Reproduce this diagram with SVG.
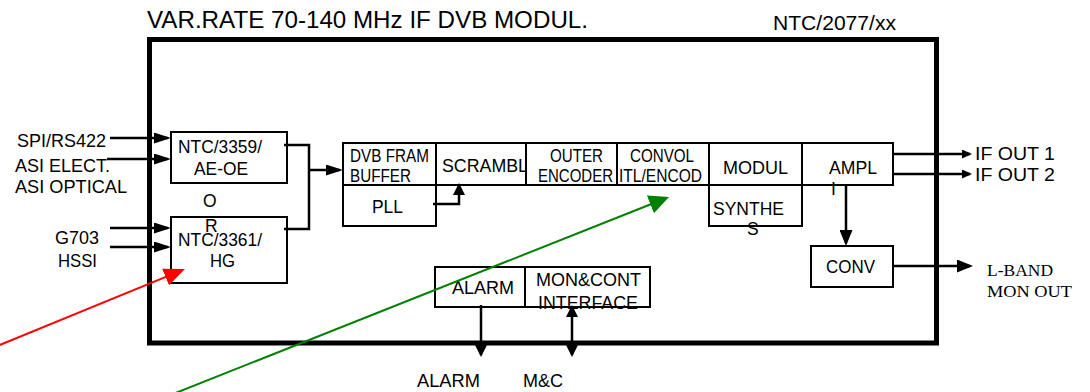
<svg xmlns="http://www.w3.org/2000/svg" width="1090" height="392" viewBox="0 0 1090 392">
<style>
text{font-family:"Liberation Sans",Arial,sans-serif;font-size:17.5px;fill:#000}
.t{font-size:24px}.r{font-size:21px}.s{font-family:"Liberation Serif","Times New Roman",serif;font-size:16.5px}
.b{fill:#fff;stroke:#000;stroke-width:2}
.c{fill:none;stroke:#000;stroke-width:2.5}
</style>
<defs>
<marker id="aIn" viewBox="0 0 10 10" refX="8" refY="5" markerUnits="userSpaceOnUse" markerWidth="17" markerHeight="11" preserveAspectRatio="none" orient="auto"><path d="M0,0L10,5L0,10z"/></marker>
<marker id="aSm" viewBox="0 0 10 10" refX="8" refY="5" markerUnits="userSpaceOnUse" markerWidth="12" markerHeight="12" preserveAspectRatio="none" orient="auto-start-reverse"><path d="M0,0L10,5L0,10z"/></marker>
<marker id="aOut" viewBox="0 0 10 10" refX="8" refY="5" markerUnits="userSpaceOnUse" markerWidth="10" markerHeight="9" preserveAspectRatio="none" orient="auto"><path d="M0,0L10,5L0,10z"/></marker>
<marker id="aMed" viewBox="0 0 10 10" refX="8" refY="5" markerUnits="userSpaceOnUse" markerWidth="16" markerHeight="13" preserveAspectRatio="none" orient="auto"><path d="M0,0L10,5L0,10z"/></marker>
<marker id="aRed" viewBox="0 0 10 10" refX="8" refY="5" markerUnits="userSpaceOnUse" markerWidth="21" markerHeight="18" preserveAspectRatio="none" orient="auto"><path d="M0,0L10,5L0,10z" fill="#ff0000"/></marker>
<marker id="aGrn" viewBox="0 0 10 10" refX="8" refY="5" markerUnits="userSpaceOnUse" markerWidth="20" markerHeight="19" preserveAspectRatio="none" orient="auto"><path d="M0,0L10,5L0,10z" fill="#008000"/></marker>
</defs>
<rect width="1090" height="392" fill="#fff"/>
<text class="t" x="147" y="28" textLength="441" lengthAdjust="spacingAndGlyphs">VAR.RATE 70-140 MHz IF DVB MODUL.</text>
<text class="r" x="773" y="30" textLength="123" lengthAdjust="spacingAndGlyphs">NTC/2077/xx</text>
<rect id="frame" x="149.5" y="39.5" width="787" height="303.5" fill="none" stroke="#000" stroke-width="5"/>

<g id="labels-in">
<text x="17" y="146.5" textLength="89" lengthAdjust="spacingAndGlyphs">SPI/RS422</text>
<text x="15" y="172" textLength="95" lengthAdjust="spacingAndGlyphs">ASI ELECT.</text>
<text x="15" y="193" textLength="112" lengthAdjust="spacingAndGlyphs">ASI OPTICAL</text>
<text x="55" y="244" textLength="44" lengthAdjust="spacingAndGlyphs">G703</text>
<text x="58" y="267" textLength="39" lengthAdjust="spacingAndGlyphs">HSSI</text>
</g>

<g id="n3359"><rect class="b" x="171" y="132" width="116" height="51"/>
<text x="178" y="153" textLength="84" lengthAdjust="spacingAndGlyphs">NTC/3359/</text>
<text x="194" y="175" textLength="54" lengthAdjust="spacingAndGlyphs">AE-OE</text></g>
<g id="n3361"><rect class="b" x="171" y="217" width="116" height="66"/>
<text x="178" y="246" textLength="84" lengthAdjust="spacingAndGlyphs">NTC/3361/</text>
<text x="210" y="267" textLength="25" lengthAdjust="spacingAndGlyphs">HG</text></g>
<g id="or"><text x="203" y="207">O</text><text x="205" y="232">R</text></g>

<g id="dvb"><rect class="b" x="343" y="143" width="93" height="42"/>
<text x="350" y="162" textLength="79" lengthAdjust="spacingAndGlyphs">DVB FRAM</text>
<text x="350" y="182" textLength="61" lengthAdjust="spacingAndGlyphs">BUFFER</text></g>
<g id="pll"><rect class="b" x="343" y="185" width="93" height="41"/>
<text x="372" y="213" textLength="31" lengthAdjust="spacingAndGlyphs">PLL</text></g>
<g id="scrambl"><rect class="b" x="436" y="143" width="90" height="42"/>
<text x="442" y="172" style="font-size:18px" textLength="86" lengthAdjust="spacingAndGlyphs">SCRAMBL</text></g>
<g id="outer"><rect class="b" x="526" y="143" width="91" height="42"/>
<text x="550" y="162" textLength="53" lengthAdjust="spacingAndGlyphs">OUTER</text>
<text x="538" y="182" textLength="75" lengthAdjust="spacingAndGlyphs">ENCODER</text></g>
<g id="convol"><rect class="b" x="617" y="143" width="92" height="42"/>
<text x="630" y="162" textLength="64" lengthAdjust="spacingAndGlyphs">CONVOL</text>
<text x="619" y="182" textLength="83" lengthAdjust="spacingAndGlyphs">ITL/ENCOD</text></g>
<g id="modul"><rect class="b" x="709" y="143" width="93" height="42"/>
<text x="723" y="174" textLength="65" lengthAdjust="spacingAndGlyphs">MODUL</text></g>
<g id="synthes"><rect class="b" x="709" y="185" width="93" height="41"/>
<text x="713" y="215" textLength="71" lengthAdjust="spacingAndGlyphs">SYNTHE</text>
<text x="747" y="235">S</text></g>
<g id="ampl"><rect class="b" x="802" y="143" width="91" height="42"/>
<text x="829" y="174" textLength="48" lengthAdjust="spacingAndGlyphs">AMPL</text>
<text x="831" y="195">I</text></g>
<g id="conv"><rect class="b" x="811" y="246" width="82" height="41"/>
<text x="826" y="273" textLength="49" lengthAdjust="spacingAndGlyphs">CONV</text></g>
<g id="alarm"><rect class="b" x="435" y="267" width="90" height="40"/>
<text x="452" y="294" textLength="62" lengthAdjust="spacingAndGlyphs">ALARM</text></g>
<g id="moncont"><rect class="b" x="525" y="267" width="125" height="40"/>
<text x="536" y="286" textLength="105" lengthAdjust="spacingAndGlyphs">MON&amp;CONT</text>
<text x="538" y="309" textLength="100" lengthAdjust="spacingAndGlyphs">INTERFACE</text></g>

<g id="labels-out">
<text x="975" y="160" style="font-size:18px" textLength="80" lengthAdjust="spacingAndGlyphs">IF OUT 1</text>
<text x="975" y="181" style="font-size:18px" textLength="80" lengthAdjust="spacingAndGlyphs">IF OUT 2</text>
<text class="s" x="987" y="276" textLength="66" lengthAdjust="spacingAndGlyphs">L-BAND</text>
<text class="s" x="987" y="297" textLength="85" lengthAdjust="spacingAndGlyphs">MON OUT</text>
<text x="417" y="387" textLength="63" lengthAdjust="spacingAndGlyphs">ALARM</text>
<text x="523" y="387" textLength="40" lengthAdjust="spacingAndGlyphs">M&amp;C</text>
</g>

<g id="connectors">
<line class="c" stroke-width="2" x1="110" y1="138" x2="167.6" y2="138" marker-end="url(#aIn)"/>
<line class="c" stroke-width="2" x1="107" y1="159" x2="167.6" y2="159" marker-end="url(#aIn)"/>
<line class="c" stroke-width="2" x1="110" y1="228" x2="167.6" y2="228" marker-end="url(#aIn)"/>
<line class="c" stroke-width="2" x1="110" y1="247" x2="167.6" y2="247" marker-end="url(#aIn)"/>
<polyline class="c" points="284,145 309,145 309,229 284,229"/>
<line class="c" x1="309" y1="170" x2="339.6" y2="170" marker-end="url(#aIn)"/>
<polyline class="c" stroke-width="3" points="433,204 459,204 459,185.4" marker-end="url(#aSm)"/>
<line class="c" x1="893" y1="154" x2="970" y2="154" marker-end="url(#aOut)"/>
<line class="c" x1="893" y1="174" x2="970" y2="174" marker-end="url(#aOut)"/>
<line class="c" x1="846" y1="185" x2="846" y2="242.8" marker-end="url(#aMed)"/>
<line class="c" x1="893" y1="266" x2="969.8" y2="266" marker-end="url(#aMed)"/>
<line class="c" x1="481" y1="305" x2="481" y2="354.6" marker-end="url(#aSm)"/>
<line class="c" x1="572" y1="307.4" x2="572" y2="354.6" marker-start="url(#aSm)" marker-end="url(#aSm)"/>
<line fill="none" stroke="#ff0000" stroke-width="2" x1="-5" y1="347" x2="181.1" y2="270.6" marker-end="url(#aRed)"/>
<line fill="none" stroke="#008000" stroke-width="2" x1="173" y1="394" x2="665.3" y2="198.5" marker-end="url(#aGrn)"/>
</g>
</svg>
